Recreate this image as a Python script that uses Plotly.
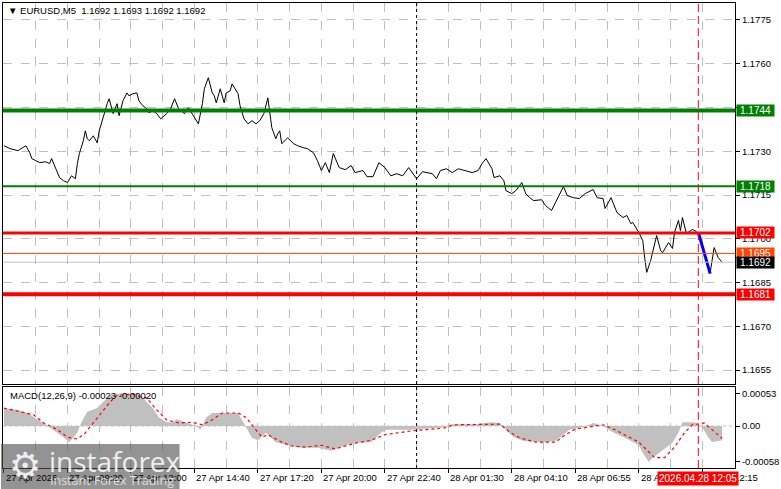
import plotly.graph_objects as go

# ---------------- data ----------------
price_bar = [0, 3, 7, 9, 11, 13, 14, 16, 18, 21,
             23, 24, 26, 28, 30, 32, 34, 36, 37, 38,
             40, 41, 42, 43, 45, 47, 48, 50, 51, 52,
             53, 55, 57, 58, 60, 62, 63, 65, 67, 68,
             70, 72, 73, 75, 77, 79, 82, 84, 86, 88,
             91, 93, 96, 98, 100, 101, 103, 105, 106, 107,
             109, 111, 112, 114, 115, 118, 119, 121, 123, 125,
             127, 129, 131, 133, 135, 137, 138, 139, 140, 143,
             146, 148, 151, 153, 156, 158, 160, 162, 164, 166,
             169, 172, 175, 177, 181, 183, 186, 189, 192, 193,
             195, 198, 201, 204, 206, 208, 211, 213, 216, 218,
             220, 223, 226, 229, 232, 236, 239, 241, 243, 246,
             247, 250, 252, 253, 256, 258, 261, 263, 265, 267,
             271, 273, 276, 278, 282, 284, 287, 290, 293, 297,
             299, 302, 303, 306, 307, 309, 312, 314, 316, 317,
             320, 322, 323, 324, 326, 327, 329, 331, 332, 335,
             337, 338, 340, 341, 342, 344, 347, 349, 351, 353,
             356, 358, 360, 362]
price_close = [1.17319, 1.17309, 1.17302, 1.17312, 1.17319, 1.17295, 1.17275, 1.17268, 1.17261, 1.17264,
               1.17258, 1.17275, 1.17240, 1.17210, 1.17199, 1.17193, 1.17216, 1.17206, 1.17258, 1.17292,
               1.17336, 1.17370, 1.17343, 1.17336, 1.17353, 1.17329, 1.17370, 1.17411, 1.17439, 1.17463,
               1.17480, 1.17429, 1.17463, 1.17422, 1.17473, 1.17500, 1.17490, 1.17497, 1.17500, 1.17473,
               1.17456, 1.17446, 1.17432, 1.17439, 1.17429, 1.17411, 1.17429, 1.17446, 1.17480, 1.17446,
               1.17429, 1.17449, 1.17415, 1.17394, 1.17463, 1.17514, 1.17552, 1.17500, 1.17490, 1.17466,
               1.17514, 1.17466, 1.17500, 1.17507, 1.17531, 1.17497, 1.17456, 1.17411, 1.17394, 1.17405,
               1.17394, 1.17405, 1.17429, 1.17483, 1.17381, 1.17343, 1.17360, 1.17370, 1.17326, 1.17346,
               1.17326, 1.17319, 1.17312, 1.17309, 1.17295, 1.17268, 1.17234, 1.17261, 1.17227, 1.17292,
               1.17244, 1.17237, 1.17251, 1.17227, 1.17234, 1.17213, 1.17213, 1.17261, 1.17244, 1.17234,
               1.17216, 1.17223, 1.17216, 1.17244, 1.17223, 1.17206, 1.17230, 1.17227, 1.17223, 1.17206,
               1.17234, 1.17240, 1.17227, 1.17240, 1.17234, 1.17227, 1.17234, 1.17258, 1.17275, 1.17240,
               1.17210, 1.17216, 1.17199, 1.17165, 1.17155, 1.17165, 1.17193, 1.17155, 1.17141, 1.17131,
               1.17134, 1.17114, 1.17097, 1.17124, 1.17179, 1.17148, 1.17141, 1.17138, 1.17155, 1.17169,
               1.17141, 1.17138, 1.17104, 1.17141, 1.17124, 1.17090, 1.17073, 1.17080, 1.17052, 1.17056,
               1.17022, 1.16994, 1.16933, 1.16885, 1.16926, 1.16953, 1.17011, 1.16960, 1.16953, 1.16987,
               1.16967, 1.17022, 1.17063, 1.17028, 1.17073, 1.17018, 1.17032, 1.17025, 1.17001, 1.16953,
               1.16885, 1.16970, 1.16936, 1.16920]

forecast_bar = [350, 356]
forecast_val = [1.17022, 1.16881]

hist_bar = [0, 7, 12, 15, 20, 25, 30, 33, 37, 39, 42, 47, 51, 54, 60, 67, 70, 75, 78, 82,
            85, 87, 92, 97, 99, 102, 105, 112, 118, 122, 125, 128, 132, 137, 143, 150, 158, 165, 172, 178,
            185, 190, 193, 205, 222, 225, 238, 245, 250, 253, 257, 262, 272, 278, 282, 285, 292, 297, 302, 307,
            313, 320, 322, 325, 327, 332, 337, 340, 342, 348, 352, 355, 357, 362]
hist_val = [0.00029, 0.00026, 0.00021, 0.00014, 0.00005, -0.00006, -0.00018, -0.00026, -0.00011, 0.00006,
            0.00023, 0.00029, 0.00042, 0.00050, 0.00053, 0.00053, 0.00045, 0.00029, 0.00014, 0.00006,
            0.00006, 0.00011, 0.00006, 0.0, -0.00006, 0.00014, 0.00021, 0.00021, 0.00021, -0.00002,
            -0.00019, -0.00023, -0.00011, -0.00026, -0.00031, -0.00035, -0.00035, -0.00040, -0.00031, -0.00027,
            -0.00026, -0.00011, -0.00006, -0.00006, -0.00002, 0.00003, 0.00003, 0.00006, 0.00005, -0.00006,
            -0.00018, -0.00024, -0.00026, -0.00024, -0.00014, -0.00006, -0.00002, 0.00005, 0.0, -0.00010,
            -0.00019, -0.00031, -0.00043, -0.00058, -0.00051, -0.00039, -0.00027, -0.00011, 0.00006, 0.00006,
            -0.00002, -0.00018, -0.00026, -0.00023]

signal_bar = [0, 8, 15, 20, 27, 32, 37, 41, 47, 53, 57, 65, 72, 77, 82, 88, 95, 100, 105, 110,
              118, 122, 127, 130, 133, 140, 145, 152, 160, 167, 172, 178, 185, 192, 205, 222, 227, 243, 250, 255,
              260, 268, 278, 283, 288, 302, 308, 320, 325, 328, 333, 338, 343, 347, 353, 357, 362]
signal_val = [0.00029, 0.00023, 0.00018, 0.00005, -0.00006, -0.00018, -0.00021, -0.00011, 0.00014, 0.00037,
              0.00050, 0.00051, 0.00045, 0.00026, 0.00010, 0.00005, 0.00006, 0.00002, 0.00010, 0.00021,
              0.00021, 0.00014, -0.00006, -0.00018, -0.00014, -0.00026, -0.00032, -0.00034, -0.00031, -0.00037,
              -0.00032, -0.00027, -0.00023, -0.00014, -0.00008, -0.00003, 0.00002, 0.00003, 0.00003, -0.00010,
              -0.00019, -0.00026, -0.00026, -0.00014, -0.00005, 0.00002, -0.00006, -0.00026, -0.00042, -0.00051,
              -0.00051, -0.00034, -0.00011, 0.00002, 0.00005, -0.00006, -0.00020]

price_ticks = [1.1775, 1.1760, 1.1745, 1.1730, 1.1715, 1.1700, 1.1685, 1.1670, 1.1655]
macd_ticks = [0.00053, 0.0, -0.00058]
macd_tick_text = ["0.00053", "0.00", "-0.00058"]

time_tick_bar = [0, 32, 64, 96, 128, 160, 192, 224, 256, 288, 320, 352]
time_tick_text = ["27 Apr 2026", "27 Apr 09:20", "27 Apr 12:00", "27 Apr 14:40", "27 Apr 17:20",
                  "27 Apr 20:00", "27 Apr 22:40", "28 Apr 01:30", "28 Apr 04:10", "28 Apr 06:55",
                  "28 Apr 09:35", "28 Apr 12:15"]
day_separator_bar = 208
cursor_bar = 350
cursor_text = "2026.04.28 12:05"

levels = [1.1744, 1.1718, 1.1702, 1.1695, 1.1692, 1.1681]
level_colors = ["#008000", "#008000", "#FF0000", "#FF4500", "#C0C0C0", "#FF0000"]
level_widths = [4, 2, 3, 1, 1, 4]
level_label_bg = ["#008000", "#008000", "#FF0000", "#FF4500", "#000000", "#FF0000"]

title_text = "EURUSD,M5  1.1692 1.1693 1.1692 1.1692"
macd_text = "MACD(12,26,9) -0.00023 -0.00020"

# ---------------- figure ----------------
FONT = "Liberation Sans, Arial, sans-serif"
W, H = 781, 489
ML, MR, MT, MB = 2, 41, 2, 21
PW, PH = W - ML - MR, H - MT - MB


def px_x(px):
    return (px - ML) / PW


def px_y(py):
    return (H - MB - py) / PH


fig = go.Figure()

fig.add_trace(go.Scatter(x=price_bar, y=price_close, mode="lines",
                         line=dict(color="#000000", width=1), xaxis="x", yaxis="y",
                         hoverinfo="skip"))
fig.add_trace(go.Scatter(x=forecast_bar, y=forecast_val, mode="lines",
                         line=dict(color="#0000FF", width=3), xaxis="x", yaxis="y",
                         hoverinfo="skip"))
fig.add_trace(go.Scatter(x=hist_bar, y=hist_val, mode="lines",
                         line=dict(color="#C0C0C0", width=0), fill="tozeroy",
                         fillcolor="#C0C0C0", xaxis="x2", yaxis="y2", hoverinfo="skip"))
fig.add_trace(go.Scatter(x=signal_bar, y=signal_val, mode="lines",
                         line=dict(color="#FF0000", width=1.2, dash="3px,3px"),
                         xaxis="x2", yaxis="y2", hoverinfo="skip"))

shapes = []
annotations = []

# horizontal levels
for lv, c, w in zip(levels, level_colors, level_widths):
    shapes.append(dict(type="line", xref="paper", x0=0, x1=1, yref="y", y0=lv, y1=lv,
                       line=dict(color=c, width=w), layer="above"))

for lv, bg in zip(levels, level_label_bg):
    annotations.append(dict(xref="paper", x=1, xanchor="left", xshift=1, yref="y", y=lv,
                            yanchor="middle", text=f"{lv:.4f}", showarrow=False,
                            bgcolor=bg, font=dict(color="#FFFFFF", size=10, family=FONT),
                            width=37, align="center", borderpad=0))

# vertical separators
shapes.append(dict(type="line", xref="x", x0=day_separator_bar, x1=day_separator_bar,
                   yref="paper", y0=0, y1=1, line=dict(color="#000000", width=1, dash="3px,3px"),
                   layer="above"))
shapes.append(dict(type="line", xref="x", x0=cursor_bar, x1=cursor_bar,
                   yref="paper", y0=0, y1=1, line=dict(color="#FF0000", width=1, dash="8px,4px"),
                   layer="above"))
# MACD zero line
shapes.append(dict(type="line", xref="paper", x0=0, x1=1, yref="y2", y0=0, y1=0,
                   line=dict(color="#C0C0C0", width=1, dash="3px,3px"), layer="below"))

# time labels
for b, t in zip(time_tick_bar, time_tick_text):
    annotations.append(dict(xref="x2", x=b, xanchor="left", xshift=0, yref="paper", y=0,
                            yanchor="top", yshift=-2, text=t, showarrow=False,
                            font=dict(color="#000000", size=9.5, family=FONT)))
annotations.append(dict(xref="x2", x=cursor_bar, xanchor="center", yref="paper", y=0,
                        yanchor="top", yshift=-3, text=cursor_text, showarrow=False,
                        bgcolor="#FF0000", font=dict(color="#FFFFFF", size=10, family=FONT),
                        borderpad=1))

# title & MACD label
annotations.append(dict(xref="paper", x=px_x(5), xanchor="left", yref="paper", y=px_y(10),
                        yanchor="middle", text="\u25bc " + title_text, showarrow=False,
                        font=dict(color="#000000", size=9.5, family=FONT)))
annotations.append(dict(xref="paper", x=px_x(7), xanchor="left", yref="paper", y=px_y(395),
                        yanchor="middle", text=macd_text, showarrow=False,
                        font=dict(color="#000000", size=9.5, family=FONT)))

# watermark
shapes.append(dict(type="rect", xref="paper", yref="paper", x0=px_x(0), x1=px_x(180),
                   y0=px_y(489), y1=px_y(444), fillcolor="rgba(80,80,80,0.62)",
                   line=dict(width=0), layer="above"))
annotations.append(dict(xref="paper", x=px_x(24), xanchor="center", yref="paper", y=px_y(465),
                        yanchor="middle", text="\u2699", showarrow=False,
                        font=dict(color="#EEEEEE", size=36, family="DejaVu Sans")))
annotations.append(dict(xref="paper", x=px_x(46), xanchor="left", yref="paper", y=px_y(461),
                        yanchor="middle", text="instaforex", showarrow=False,
                        font=dict(color="#EEEEEE", size=28, family="Open Sans, DejaVu Sans")))
annotations.append(dict(xref="paper", x=px_x(47), xanchor="left", yref="paper", y=px_y(481),
                        yanchor="middle", text="Instant Forex Trading", showarrow=False,
                        font=dict(color="#DDDDDD", size=12.5, family="Open Sans, DejaVu Sans")))

main_bottom = px_y(384)
macd_top = px_y(387)
xrange = [-0.5, (PW / 2) - 0.5]
grid = dict(showgrid=True, gridcolor="#C0C0C0", griddash="dash", gridwidth=1)

fig.update_layout(
    width=W, height=H,
    margin=dict(l=ML, r=MR, t=MT, b=MB),
    paper_bgcolor="#FFFFFF", plot_bgcolor="#FFFFFF",
    showlegend=False, hovermode=False,
    font=dict(family=FONT, size=9.5, color="#000000"),
    xaxis=dict(domain=[0, 1], anchor="y", range=xrange, tickmode="linear", tick0=0, dtick=16,
               showticklabels=False, ticks="", zeroline=False,
               showline=True, mirror=True, linecolor="#000000", linewidth=1, **grid),
    yaxis=dict(domain=[main_bottom, 1], anchor="x", side="right",
               range=[1.16502, 1.17808], tickmode="array", tickvals=price_ticks,
               ticktext=[f"{v:.4f}" for v in price_ticks], ticks="outside", ticklen=4,
               tickcolor="#000000", zeroline=False,
               showline=True, mirror=True, linecolor="#000000", linewidth=1, **grid),
    xaxis2=dict(domain=[0, 1], anchor="y2", range=xrange, tickmode="array",
                tickvals=time_tick_bar, ticktext=[""] * len(time_tick_bar),
                ticks="outside", ticklen=4, tickcolor="#000000", zeroline=False,
                minor=dict(tickmode="linear", tick0=0, dtick=16, showgrid=True,
                           gridcolor="#C0C0C0", griddash="dash", ticks=""),
                showline=True, mirror=True, linecolor="#000000", linewidth=1, **grid),
    yaxis2=dict(domain=[0, macd_top], anchor="x2", side="right",
                range=[-0.000677, 0.000627], tickmode="array", tickvals=macd_ticks,
                ticktext=macd_tick_text, ticks="outside", ticklen=4, tickcolor="#000000",
                showgrid=False, zeroline=False,
                showline=True, mirror=True, linecolor="#000000", linewidth=1),
    shapes=shapes, annotations=annotations,
)

fig.write_html("out.html", config={"displayModeBar": False},
               post_script="document.body.style.margin='0';")
